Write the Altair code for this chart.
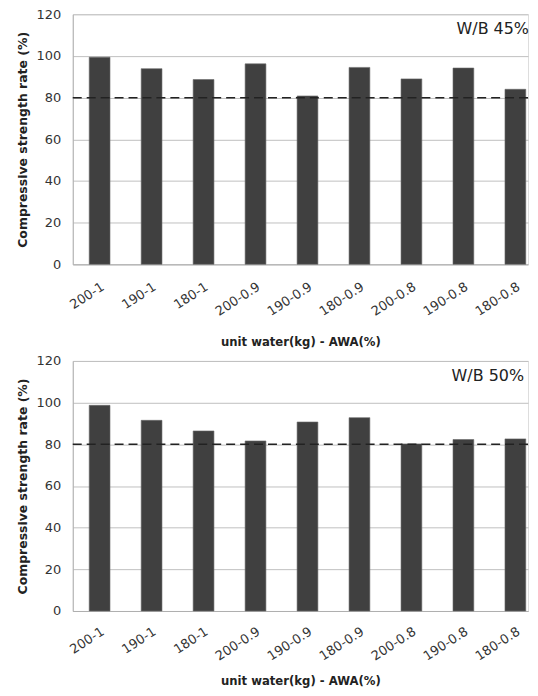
import altair as alt
import pandas as pd

categories = ["200-1", "190-1", "180-1", "200-0.9", "190-0.9", "180-0.9", "200-0.8", "190-0.8", "180-0.8"]
wb45_values = [99.4, 93.9, 88.7, 96.2, 80.8, 94.5, 89.0, 94.2, 84.0]
wb50_values = [98.7, 91.5, 86.4, 81.6, 90.7, 92.8, 80.2, 82.3, 82.6]
panel_labels = ["W/B 45%", "W/B 50%"]
reference_level = 80
y_ticks = [0, 20, 40, 60, 80, 100, 120]

FONT = "DejaVu Sans"
W, H = 457, 251


def panel(values, label, label_x, label_pad, title_pad):
    df = pd.DataFrame({"cat": categories, "val": values})
    base = alt.Chart(df)
    bars = base.mark_bar(color="#404040", stroke="#6a6a6a", strokeWidth=0.6).encode(
        x=alt.X(
            "cat:N",
            sort=categories,
            scale=alt.Scale(paddingInner=0.6, paddingOuter=0.18, align=0.88),
            axis=alt.Axis(
                title="unit water(kg) - AWA(%)",
                labelAngle=-33,
                labelAlign="right",
                labelBaseline="top",
                labelPadding=label_pad,
                labelFont=FONT,
                labelFontSize=13,
                labelColor="#333333",
                ticks=False,
                domainColor="#b0b0b0",
                grid=False,
                titleFont=FONT,
                titleFontSize=11.7,
                titleFontWeight="bold",
                titleColor="#222222",
                titlePadding=title_pad,
            ),
        ),
        y=alt.Y(
            "val:Q",
            scale=alt.Scale(domain=[0, 120], nice=False),
            axis=alt.Axis(
                title="Compressive strength rate (%)",
                values=y_ticks,
                ticks=False,
                labelPadding=12,
                labelFont=FONT,
                labelFontSize=13,
                labelColor="#333333",
                domainColor="#b0b0b0",
                gridColor="#c0c0c0",
                titleFont=FONT,
                titleFontSize=12.5,
                titleFontWeight="bold",
                titleColor="#222222",
                titlePadding=7,
            ),
        ),
    )
    rule = alt.Chart(alt.Data(values=[{"v": reference_level}])).mark_rule(
        color="#222222", strokeDash=[9, 5], strokeWidth=1.5
    ).encode(y=alt.Y("v:Q"))
    text = alt.Chart(alt.Data(values=[{"t": label}])).mark_text(
        font=FONT, fontSize=16, align="right", baseline="alphabetic", color="#222222"
    ).encode(text="t:N", x=alt.value(label_x), y=alt.value(20))
    return alt.layer(bars, rule, text).properties(width=W, height=H)


chart = alt.vconcat(
    panel(wb45_values, panel_labels[0], W + 1, 16, 18),
    panel(wb50_values, panel_labels[1], W - 4, 14, 13),
    spacing=5,
).properties(
    padding={"left": 7, "top": -2, "right": 0, "bottom": 0}
).configure_view(stroke=None).configure(background="white")

chart.save("out.html", embed_options={"renderer": "svg", "actions": False})
